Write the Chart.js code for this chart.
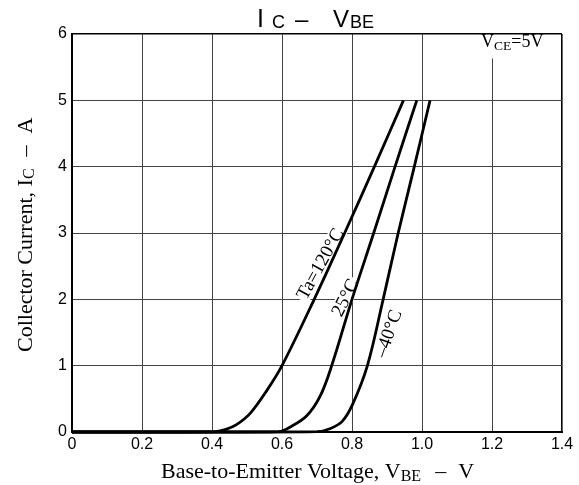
<!DOCTYPE html>
<html><head><meta charset="utf-8">
<script src="https://cdn.jsdelivr.net/npm/chart.js@4"></script>
<style>html,body{margin:0;padding:0;background:#fff}#wrap{width:579px;height:485px}</style>
</head><body><div id="wrap"><canvas id="c" width="579" height="485"></canvas></div>
<script>
// ---- data ----
const xTickLabels = ['0','0.2','0.4','0.6','0.8','1.0','1.2','1.4'];
const yTickLabels = ['0','1','2','3','4','5','6'];

const vbeTa120 = [0, 0.30, 0.41, 0.44, 0.47, 0.509, 0.556, 0.60, 0.692, 0.779, 0.864, 0.947];
const icTa120  = [0, 0,    0.005, 0.04, 0.11, 0.28,  0.62,  1.0,  2.0,   3.0,   4.0,   5.0];

const vbeTa25 = [0, 0.45, 0.59, 0.625, 0.67, 0.709, 0.742, 0.80, 0.862, 0.923, 0.985];
const icTa25  = [0, 0,    0.005, 0.08, 0.24, 0.54,  1.0,   2.0,  3.0,   4.0,   5.0];

const vbeTaM40 = [0, 0.55, 0.70, 0.737, 0.772, 0.802, 0.844, 0.889, 0.932, 0.978, 1.023];
const icTaM40  = [0, 0,    0.005, 0.05, 0.16,  0.42,  1.0,   2.0,   3.0,   4.0,   5.0];

const seriesNames = ['Ta=120°C', '25°C', '–40°C'];

const toPts = (xs, ys) => xs.map((x, i) => ({x, y: ys[i]}));

const SERIF = '"Liberation Serif","Times New Roman",serif';
const SANS = '"Liberation Sans",Arial,sans-serif';

function drawRuns(ctx, x, y, runs) {
  let cx = x;
  runs.forEach(r => {
    ctx.font = r.size + 'px ' + r.family;
    ctx.fillText(r.t, cx, y + (r.dy || 0));
    cx += ctx.measureText(r.t).width + (r.gap || 0);
  });
}

const annotations = {
  id: 'annotations',
  beforeDatasetsDraw(chart) {
    const ctx = chart.ctx;
    const xs = chart.scales.x, ys = chart.scales.y;
    ctx.save();
    ctx.textBaseline = 'alphabetic';
    ctx.textAlign = 'left';
    // VCE=5V box (white, masks grid)
    ctx.fillStyle = '#fff';
    ctx.fillRect(476, chart.chartArea.top + 1.5, 82, 23);
    ctx.fillStyle = '#000';
    drawRuns(ctx, 481, 47, [
      {t: 'V', size: 18, family: SERIF},
      {t: 'CE', size: 13.5, family: SERIF, dy: 2.5},
      {t: '=5V', size: 18, family: SERIF}
    ]);
    // curve labels
    const labels = [
      {t: seriesNames[0], x: xs.getPixelForValue(0.711), y: ys.getPixelForValue(2.53), a: -61},
      {t: seriesNames[1], x: xs.getPixelForValue(0.782), y: ys.getPixelForValue(2.02), a: -63.5},
      {t: seriesNames[2], x: xs.getPixelForValue(0.906), y: ys.getPixelForValue(1.48), a: -71}
    ];
    labels.forEach(l => {
      ctx.save();
      ctx.translate(l.x, l.y);
      ctx.rotate(l.a * Math.PI / 180);
      ctx.font = '19px ' + SERIF;
      const w = ctx.measureText(l.t).width;
      ctx.fillStyle = '#fff';
      ctx.fillRect(-w / 2 - 2, -9, w + 4, 17);
      ctx.fillStyle = '#000';
      ctx.textAlign = 'center';
      ctx.textBaseline = 'middle';
      ctx.fillText(l.t, 0, 0);
      ctx.restore();
    });
    ctx.restore();
  },
  afterDraw(chart) {
    const ctx = chart.ctx;
    ctx.save();
    ctx.fillStyle = '#000';
    ctx.textAlign = 'left';
    ctx.textBaseline = 'alphabetic';
    // title
    ctx.font = '25px ' + SANS; ctx.fillText('I', 257, 27);
    ctx.font = '18px ' + SANS; ctx.fillText('C', 272, 28);
    ctx.font = '24px ' + SANS; ctx.fillText('–', 295, 27);
    ctx.font = '24px ' + SANS; ctx.fillText('V', 333, 27);
    ctx.font = '18px ' + SANS; ctx.fillText('BE', 350, 28);
    // x axis title
    drawRuns(ctx, 161, 478, [
      {t: 'Base-to-Emitter Voltage, V', size: 22, family: SERIF},
      {t: 'BE', size: 16, family: SERIF, dy: 3, gap: 14},
      {t: '–', size: 22, family: SERIF, gap: 12},
      {t: 'V', size: 22, family: SERIF}
    ]);
    // y axis title
    ctx.translate(32, 352);
    ctx.rotate(-Math.PI / 2);
    drawRuns(ctx, 0, 0, [
      {t: 'Collector Current, I', size: 22, family: SERIF},
      {t: 'C', size: 16, family: SERIF, dy: 2, gap: 12},
      {t: '–', size: 22, family: SERIF, gap: 12},
      {t: 'A', size: 22, family: SERIF}
    ]);
    ctx.restore();
  }
};

const lineStyle = {
  borderColor: '#000', borderWidth: 2.8, pointRadius: 0,
  tension: 0.35, fill: false, clip: 6
};

new Chart(document.getElementById('c'), {
  type: 'line',
  data: {
    datasets: [
      Object.assign({label: seriesNames[0], data: toPts(vbeTa120, icTa120)}, lineStyle),
      Object.assign({label: seriesNames[1], data: toPts(vbeTa25, icTa25)}, lineStyle),
      Object.assign({label: seriesNames[2], data: toPts(vbeTaM40, icTaM40)}, lineStyle)
    ]
  },
  options: {
    responsive: false, devicePixelRatio: 1, animation: false,
    layout: {padding: {top: 34, right: 17, left: 0, bottom: 0}},
    plugins: {legend: {display: false}, tooltip: {enabled: false}, title: {display: false}},
    scales: {
      x: {
        type: 'linear', min: 0, max: 1.4,
        afterFit: s => { s.height = 53; },
        afterBuildTicks: s => { s.ticks = xTickLabels.map((_, i) => ({value: i * 0.2})); },
        ticks: {
          callback: (v, i) => xTickLabels[i], padding: 3, maxRotation: 0, autoSkip: false,
          color: '#000', font: {family: SANS, size: 16}
        },
        grid: {
          drawTicks: false,
          color: c => c.index === xTickLabels.length - 1 ? '#000' : '#444',
          lineWidth: c => c.index === xTickLabels.length - 1 ? 1.6 : 1
        },
        border: {display: true, color: '#000', width: 2}
      },
      y: {
        type: 'linear', min: 0, max: 6,
        afterFit: s => { s.width = 72; },
        afterBuildTicks: s => { s.ticks = yTickLabels.map((t, i) => ({value: i})); },
        ticks: {
          callback: (v, i) => yTickLabels[i], padding: 5, autoSkip: false,
          color: '#000', font: {family: SANS, size: 16}
        },
        grid: {
          drawTicks: false,
          color: c => c.index === yTickLabels.length - 1 ? '#000' : '#444',
          lineWidth: c => c.index === yTickLabels.length - 1 ? 1.6 : 1
        },
        border: {display: true, color: '#000', width: 2}
      }
    }
  },
  plugins: [annotations]
});
</script></body></html>
